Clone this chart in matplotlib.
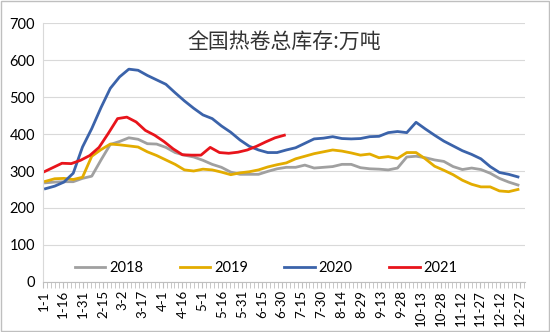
import numpy as np
import matplotlib
matplotlib.use("Agg")
from matplotlib import pyplot as plt
from matplotlib.ticker import MultipleLocator

plt.rcParams['font.family'] = ['Lato', 'Noto Sans CJK SC', 'DejaVu Sans']

title = "全国热卷总库存:万吨"

# weekly inventory readings (万吨), first reading day of year per series
tick_days = list(range(0, 361, 15))
tick_labels = ["1-1", "1-16", "1-31", "2-15", "3-2", "3-17", "4-1", "4-16", "5-1",
               "5-16", "5-31", "6-15", "6-30", "7-15", "7-30", "8-14", "8-29", "9-13",
               "9-28", "10-13", "10-28", "11-12", "11-27", "12-12", "12-27"]

start_2018 = 1.5
v2018 = [268, 270, 271, 271, 280, 286, 330, 372, 380, 390, 386, 374, 373, 364, 350, 343,
         338, 329, 318, 310, 297, 291, 291, 291, 299, 306, 310, 310, 316, 308, 310, 312,
         318, 318, 309, 306, 305, 303, 308, 338, 340, 336, 330, 326, 312, 304, 308, 304,
         294, 280, 270, 262]

start_2019 = 1.5
v2019 = [272, 279, 280, 277, 283, 340, 358, 373, 371, 368, 365, 352, 342, 330, 318, 303,
         300, 305, 303, 297, 290, 295, 298, 303, 311, 317, 322, 333, 340, 347, 352, 357,
         354, 349, 343, 346, 336, 339, 334, 350, 350, 333, 313, 302, 290, 275, 264, 257,
         257, 246, 244, 250]

start_2020 = 1.5
v2020 = [252, 259, 270, 294, 365, 415, 472, 524, 555, 576, 573, 559, 547, 535, 512, 490,
         470, 452, 442, 422, 405, 384, 367, 357, 350, 350, 357, 363, 375, 387, 389, 393,
         388, 387, 388, 393, 394, 404, 407, 404, 432, 414, 397, 381, 368, 355, 345, 333,
         312, 296, 291, 284]

start_2021 = 0
v2021 = [297, 309, 321, 320, 329, 342, 364, 402, 442, 446, 433, 410, 397, 380, 360, 344,
         343, 343, 364, 350, 348, 351, 357, 367, 379, 390, 397]

series = [
    ("2018", start_2018, v2018, "#A0A0A0"),
    ("2019", start_2019, v2019, "#E3AC00"),
    ("2020", start_2020, v2020, "#3B63AA"),
    ("2021", start_2021, v2021, "#E8141B"),
]

fig = plt.figure(figsize=(5.5, 3.32), dpi=100)
ax = fig.add_axes([0.079, 0.1515, 0.876, 0.778])

for name, start, vals, color in series:
    days = start + 7 * np.arange(len(vals))
    ax.plot(days, vals, color=color, lw=2, label=name, solid_joinstyle="round")

ax.set_xlim(0, 364)
ax.set_ylim(0, 700)
ax.yaxis.set_major_locator(MultipleLocator(100))
ax.grid(axis="y", color="#D9D9D9", lw=0.8)
ax.set_axisbelow(True)

ax.set_xticks(tick_days)
ax.set_xticklabels(tick_labels, rotation=90, fontsize=9.5)
ax.xaxis.set_minor_locator(MultipleLocator(3))
ax.tick_params(axis="x", which="major", length=4, color="#BFBFBF", pad=2)
ax.tick_params(axis="x", which="minor", length=4, color="#BFBFBF")
ax.tick_params(axis="y", length=0, labelsize=10.5, pad=6)

for side in ["top", "right"]:
    ax.spines[side].set_visible(False)
ax.spines["left"].set_color("#D9D9D9")
ax.spines["bottom"].set_color("#BFBFBF")

ax.text(0.5, 0.925, title, transform=ax.transAxes, ha="center", va="center",
        fontsize=15, family=["Noto Sans CJK SC", "DejaVu Sans"], color="#333333")

ax.legend(loc="center", bbox_to_anchor=(0.462, 0.052), ncol=4, frameon=False,
          fontsize=10.5, handlelength=2.1, columnspacing=2.5, handletextpad=0.25)

fig.patches.append(plt.Rectangle((0.002, 0.003), 0.996, 0.994, transform=fig.transFigure,
                                 fill=False, edgecolor="#BFBFBF", lw=1))

fig.savefig("out.png", dpi=100)
